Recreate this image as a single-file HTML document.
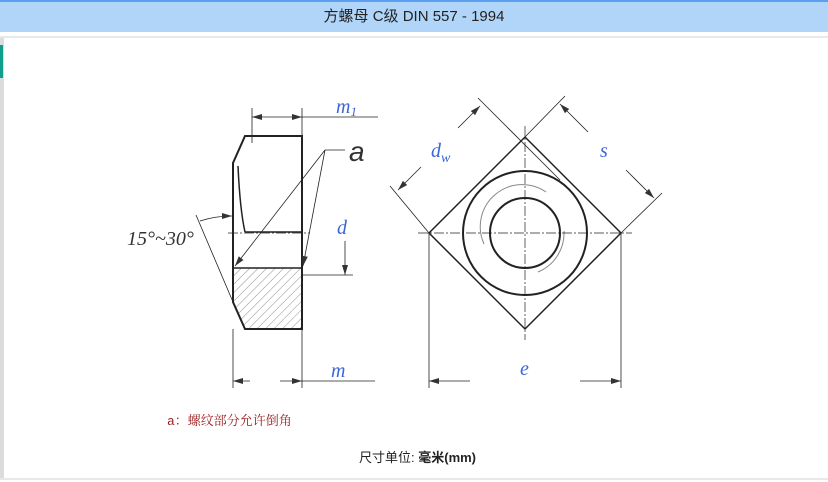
<!DOCTYPE html>
<html><head><meta charset="utf-8"><style>
body{margin:0;width:828px;height:482px;overflow:hidden;background:#fff;position:relative;font-family:"Liberation Sans","Noto Sans CJK SC",sans-serif}
</style></head><body>
<div style="position:absolute;left:0;top:0;width:828px;height:2px;background:#5b9ff0"></div>
<div style="position:absolute;left:0;top:2px;width:828px;height:30px;background:#b1d5f9;text-align:center;line-height:30px;font-size:15px;color:#222">方螺母 C级 DIN 557 - 1994</div>
<div style="position:absolute;left:0;top:36px;width:828px;height:2px;background:#e8e8e8"></div>
<div style="position:absolute;left:0;top:38px;width:4px;height:440px;background:#dcdcdc"></div>
<div style="position:absolute;left:0;top:45px;width:3px;height:33px;background:#0f9e8a"></div>
<div style="position:absolute;left:0;top:478px;width:828px;height:2px;background:#e8e8e8"></div>
<svg width="828" height="482" style="position:absolute;left:0;top:0" xmlns="http://www.w3.org/2000/svg">
<defs>
<pattern id="h" width="6" height="6" patternUnits="userSpaceOnUse" patternTransform="rotate(45)"><line x1="0" y1="0" x2="0" y2="6" stroke="#444" stroke-width="0.6"/></pattern>
<marker id="ar" markerWidth="10" markerHeight="6" refX="10" refY="3" orient="auto" markerUnits="userSpaceOnUse"><path d="M0,0 L10,3 L0,6z" fill="#333"/></marker>
</defs>
<g fill="none" stroke="#222">
<path d="M233,268 L302,268 L302,329 L245,329 L233,302 Z" fill="url(#h)" stroke="none"/>
<path d="M245,136 L302,136 L302,329 L245,329 L233,302 L233,163 Z" stroke-width="2"/>
<line x1="233" y1="268" x2="302" y2="268" stroke-width="1.5"/>
<path d="M238,166 Q240,210 245,232" stroke-width="1.5"/>
<line x1="245" y1="232" x2="302" y2="232" stroke-width="1.5"/>
<line x1="228" y1="233" x2="310" y2="233" stroke-width="0.7" stroke-dasharray="10,2,2,2"/>
<g stroke-width="0.8">
<line x1="252" y1="108" x2="252" y2="143"/><line x1="302" y1="108" x2="302" y2="136"/>
<line x1="258" y1="117" x2="252" y2="117" marker-end="url(#ar)"/><line x1="262" y1="117" x2="302" y2="117" marker-end="url(#ar)"/>
<line x1="302" y1="117" x2="378" y2="117"/>
<line x1="233" y1="329" x2="233" y2="388"/><line x1="302" y1="329" x2="302" y2="388"/>
<line x1="250" y1="381" x2="233" y2="381" marker-end="url(#ar)"/><line x1="280" y1="381" x2="302" y2="381" marker-end="url(#ar)"/>
<line x1="302" y1="381" x2="375" y2="381"/>
<line x1="302" y1="275" x2="353" y2="275"/>
<line x1="345" y1="241" x2="345" y2="275" marker-end="url(#ar)"/>
<line x1="345" y1="150" x2="325" y2="150"/>
<line x1="325" y1="150" x2="235" y2="266" marker-end="url(#ar)"/>
<line x1="325" y1="150" x2="303" y2="266" marker-end="url(#ar)"/>
<line x1="196" y1="215" x2="233" y2="302"/>
<path d="M200,221 Q215,216 232,216" marker-end="url(#ar)"/>
</g>
<path d="M525,137 L621,233 L525,329 L429,233 Z" stroke-width="1.5"/>
<circle cx="525" cy="233" r="62" stroke-width="2"/>
<circle cx="525" cy="233" r="35" stroke-width="2"/>
<path d="M484,244 A42,42 0 0 1 546,192" stroke="#888" stroke-width="1"/>
<path d="M564,231 A42,42 0 0 1 538,272" stroke="#888" stroke-width="1"/>
<line x1="418" y1="233" x2="632" y2="233" stroke-width="0.7" stroke-dasharray="10,2,2,2"/>
<line x1="525" y1="126" x2="525" y2="340" stroke-width="0.7" stroke-dasharray="10,2,2,2"/>
<g stroke-width="0.8">
<line x1="429" y1="233" x2="429" y2="388"/><line x1="621" y1="233" x2="621" y2="388"/>
<line x1="470" y1="381" x2="429" y2="381" marker-end="url(#ar)"/><line x1="580" y1="381" x2="621" y2="381" marker-end="url(#ar)"/>
<line x1="429" y1="233" x2="390" y2="186"/>
<line x1="478" y1="98" x2="560" y2="180"/>
<line x1="421" y1="167" x2="398" y2="190" marker-end="url(#ar)"/>
<line x1="458" y1="128" x2="480" y2="106" marker-end="url(#ar)"/>
<line x1="525" y1="137" x2="565" y2="96"/>
<line x1="621" y1="233" x2="662" y2="193"/>
<line x1="588" y1="132" x2="560" y2="104" marker-end="url(#ar)"/>
<line x1="626" y1="170" x2="654" y2="198" marker-end="url(#ar)"/>
</g>
</g>
<g font-family="Liberation Serif,serif" font-style="italic" font-size="20" fill="#3a66d8">
<text x="336" y="113">m<tspan font-size="13" dy="3">1</tspan></text>
<text x="337" y="234">d</text>
<text x="331" y="377">m</text>
<text x="431" y="157">d<tspan font-size="14" dy="5">w</tspan></text>
<text x="600" y="157">s</text>
<text x="520" y="375">e</text>
</g>
<g fill="#333">
<text x="349" y="161" font-size="28" font-family="Liberation Sans,sans-serif" font-style="italic">a</text>
<text x="127" y="245" font-size="20" font-family="Liberation Serif,serif" font-style="italic">15°~30°</text>
</g>
<text x="167" y="425" font-size="13" fill="#9b1c1c" font-family="Liberation Mono,'Noto Serif CJK SC',serif">a：螺纹部分允许倒角</text>
<text x="359" y="462" font-size="13" fill="#222">尺寸单位: <tspan font-weight="bold">毫米(mm)</tspan></text>
</svg>
</body></html>
